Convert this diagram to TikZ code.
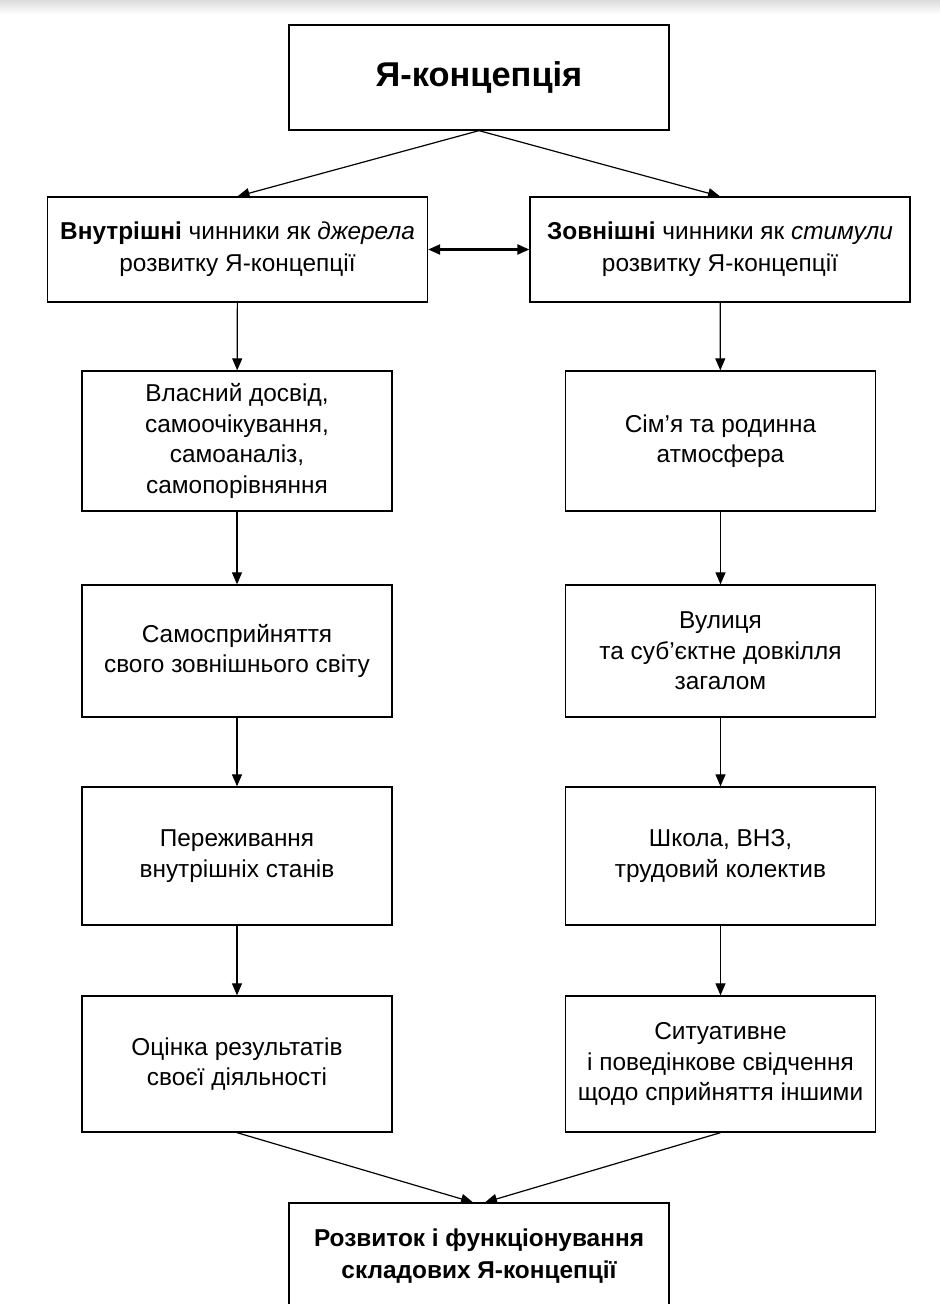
\documentclass[tikz,border=0pt]{standalone}
\usepackage{fontspec}
\setmainfont{Liberation Sans}
\usetikzlibrary{arrows.meta}

\begin{document}
\begin{tikzpicture}[x=0.5pt, y=-0.5pt,
    box/.style={draw, line width=0.65pt, align=center, inner sep=2pt,
        font=\fontsize{12.2}{15.2}\selectfont},
    colbox/.style={box, minimum width=155pt},
    wide/.style={box, minimum width=190pt},
    arr/.style={-{Triangle[length=6pt,width=5pt]}, line width=0.6pt},
    darr/.style={{Triangle[length=6pt,width=5pt]}-{Triangle[length=6pt,width=5pt]}, line width=1.1pt}]

    % 0. Page and the grey strip at the top
    \useasboundingbox (0,0) rectangle (940,1304);
    \fill[white] (0,0) rectangle (940,1304);
    \shade[top color=black!14, bottom color=white] (0,0) rectangle (940,14);

    % 1. Top and first level
    \node[wide, minimum height=52.5pt, font=\fontsize{17.2}{20}\selectfont\bfseries] (self) at (479,77.5) {Я-концепція};
    \node[wide, minimum height=52.5pt, font=\fontsize{12.2}{16}\selectfont] (inner) at (237.5,249.5)
        {\textbf{Внутрішні} чинники як \textit{джерела}\\розвитку Я-концепції};
    \node[wide, minimum height=52.5pt, font=\fontsize{12.2}{16}\selectfont] (outer) at (720,249.5)
        {\textbf{Зовнішні} чинники як \textit{стимули}\\розвитку Я-концепції};

    % 2. Left column
    \node[colbox, minimum height=70pt] (own) at (237,441)
        {Власний досвід,\\самоочікування,\\самоаналіз,\\самопорівняння};
    \node[colbox, minimum height=66pt] (perc) at (237,651)
        {Самосприйняття\\свого зовнішнього світу};
    \node[colbox, minimum height=69pt] (exper) at (237,856)
        {Переживання\\внутрішніх станів};
    \node[colbox, minimum height=68pt] (eval) at (237,1064)
        {Оцінка результатів\\своєї діяльності};

    % 3. Right column
    \node[colbox, minimum height=70pt] (family) at (720.5,441)
        {Сім’я та родинна\\атмосфера};
    \node[colbox, minimum height=66pt] (street) at (720.5,651)
        {Вулиця\\та суб’єктне довкілля\\загалом};
    \node[colbox, minimum height=69pt] (school) at (720.5,856)
        {Школа, ВНЗ,\\трудовий колектив};
    \node[colbox, minimum height=68pt] (situ) at (720.5,1064)
        {Ситуативне\\і поведінкове свідчення\\щодо сприйняття іншими};

    % 4. Bottom
    \node[wide, minimum height=53pt, font=\fontsize{12.2}{16}\selectfont\bfseries] (devel) at (479,1256)
        {Розвиток і функціонування\\складових Я-концепції};

    % 5. Connectors
    \draw[arr] (self.south) -- (inner.north);
    \draw[arr] (self.south) -- (outer.north);
    \draw[darr] (inner.east) -- (outer.west);

    \draw[arr] (inner) -- (own);
    \draw[arr] (own) -- (perc);
    \draw[arr] (perc) -- (exper);
    \draw[arr] (exper) -- (eval);

    \draw[arr] (outer) -- (family);
    \draw[arr] (family) -- (street);
    \draw[arr] (street) -- (school);
    \draw[arr] (school) -- (situ);

    \draw[arr] (eval.south) -- ([xshift=-3pt]devel.north);
    \draw[arr] (situ.south) -- ([xshift=3pt]devel.north);
\end{tikzpicture}
\end{document}
